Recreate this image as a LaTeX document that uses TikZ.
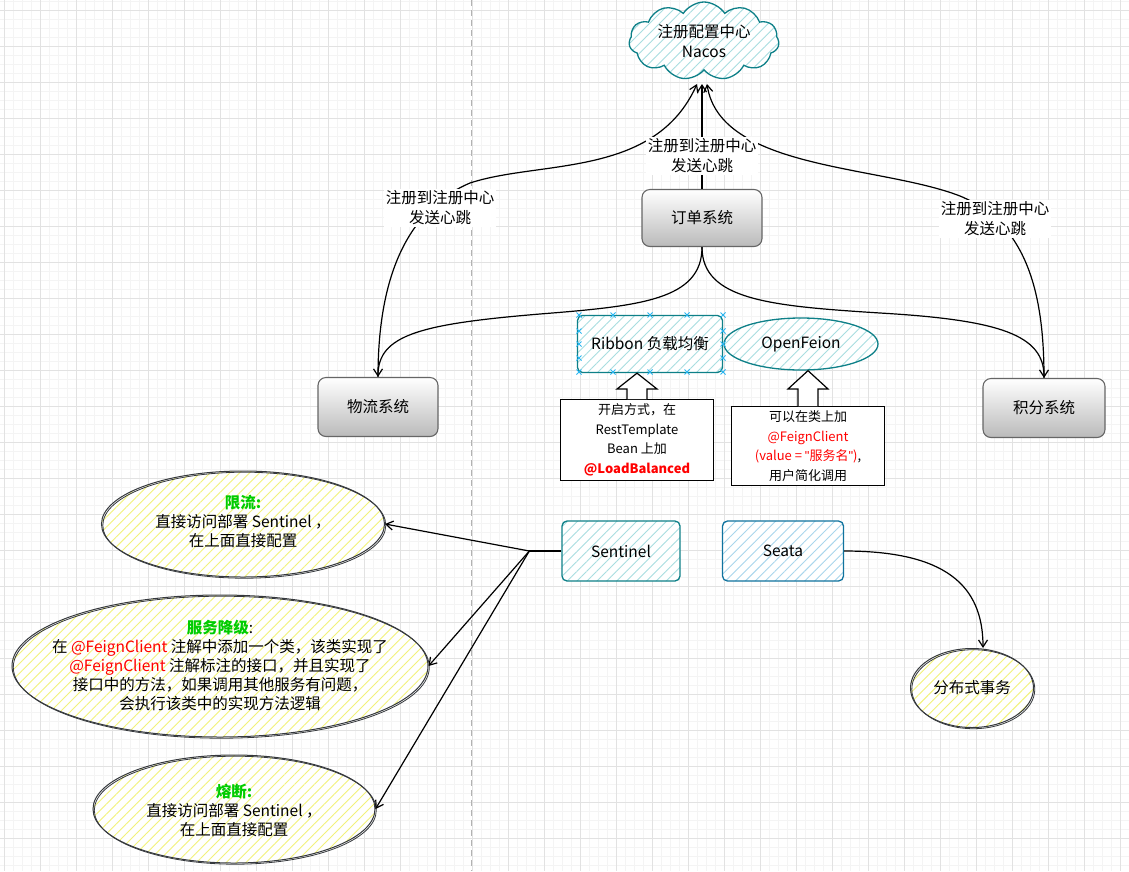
\documentclass[tikz,border=0pt]{standalone}
\usepackage{fontspec}
\setmainfont{Noto Sans CJK SC}
\newfontfamily\libfont{Liberation Sans}
\usetikzlibrary{shapes.geometric,shapes.symbols,patterns.meta,arrows.meta,calc}
\definecolor{teal1}{HTML}{0E8088}
\definecolor{tealf}{HTML}{A8DDE0}
\definecolor{blue1}{HTML}{10739E}
\definecolor{bluef}{HTML}{A9D6EC}
\definecolor{yelf}{HTML}{F2F27A}
\definecolor{dk}{HTML}{36393D}
\definecolor{gr1}{HTML}{666666}
\definecolor{grn}{HTML}{00CC00}
\definecolor{selb}{HTML}{29B6F2}
\definecolor{gridmaj}{HTML}{E2E2E2}
\definecolor{gridmin}{HTML}{F4F4F4}
\begin{document}
\begin{tikzpicture}[x=1pt,y=-1pt,
  every node/.style={font=\fontsize{15.5}{19}\selectfont, align=center, inner sep=0pt},
  hatchtl/.style={preaction={fill=white}, pattern={Lines[angle=45,distance=7pt,line width=0.9pt]}, pattern color=#1},
  tealbox/.style={rectangle, rounded corners=5pt, draw=teal1, line width=1.3pt, hatchtl=tealf},
  seabox/.style={rectangle, rounded corners=5pt, draw=blue1, line width=1.3pt, hatchtl=bluef},
  tealell/.style={ellipse, draw=teal1, line width=1.3pt, hatchtl=tealf},
  yell/.style={ellipse, draw=dk, line width=1pt, hatchtl=yelf,
     postaction={draw=dk, line width=0.8pt, transform canvas={xshift=1.3pt, yshift=-1.2pt}}},
  graybox/.style={rectangle, rounded corners=8pt, draw=gr1, line width=1.1pt, top color=white, bottom color=black!27},
  edge/.style={draw=black, line width=1.2pt, -{Straight Barb[length=7pt,width=9pt]}},
  lbl/.style={fill=white, inner sep=1.5pt, font=\fontsize{15.5}{20}\selectfont},
  callbox/.style={rectangle, draw=black, line width=1pt, fill=white, font=\fontsize{13}{19.5}\selectfont},
  barrow/.style={draw=black, line width=1.2pt, fill=white, line join=miter},
  selx/.style={draw=selb, line width=0.8pt}
]
\useasboundingbox (0,0) rectangle (1129,871);
\fill[white] (0,0) rectangle (1129,871);
% grid
\foreach \x in {4,13,...,1129} \draw[gridmin, line width=0.6pt] (\x,0) -- (\x,871);
\foreach \y in {1,10,...,871} \draw[gridmin, line width=0.6pt] (0,\y) -- (1129,\y);
\foreach \x in {4,40,...,1129} \draw[gridmaj, line width=0.7pt] (\x,0) -- (\x,871);
\foreach \y in {10,46,...,871} \draw[gridmaj, line width=0.7pt] (0,\y) -- (1129,\y);
\draw[black!30, line width=0.8pt, dash pattern=on 6pt off 4pt] (471,0) -- (471,871);

% nodes
\node[cloud, cloud puffs=11, cloud puff arc=115, cloud ignores aspect, minimum width=150pt, minimum height=78pt, draw=teal1, line width=1.3pt, hatchtl=tealf] (nacos) at (704,41) {};
\node (nacost) at (704,41) {注册配置中心\\[1pt]Nacos};
\node[graybox, minimum width=120pt, minimum height=57pt] (order) at (702,218) {订单系统};
\node[graybox, minimum width=120pt, minimum height=59pt] (wuliu) at (378,407) {物流系统};
\node[graybox, minimum width=122pt, minimum height=59pt] (jifen) at (1044,408) {积分系统};
\node[tealbox, minimum width=145pt, minimum height=57pt] (rib) at (650,344) {Ribbon 负载均衡};
\node[tealell, minimum width=154pt, minimum height=52pt] (feign) at (801,344) {OpenFeion};
\node[callbox, minimum width=153pt, minimum height=81pt] (cb1) at (637,440) {开启方式，在\\RestTemplate\\Bean 上加\\{\color{red}\bfseries @LoadBalanced}};
\node[callbox, minimum width=153pt, minimum height=79pt] (cb2) at (808,446) {可以在类上加\\{\color{red}@FeignClient}\\{\color{red}(value = {\libfont "}服务名{\libfont "})},\\用户简化调用};
\node[tealbox, minimum width=118pt, minimum height=60pt] (sent) at (621,551) {Sentinel};
\node[seabox, minimum width=121pt, minimum height=60pt] (seata) at (783,551) {Seata};
\node[yell, minimum width=123pt, minimum height=79pt] (fbs) at (972,688) {分布式事务};
\node[yell, minimum width=283pt, minimum height=106pt] (xl) at (243,524) {};
\node (xlt) at (243,521) {{\color{grn}\bfseries 限流:}\\直接访问部署 Sentinel ，\\在上面直接配置};
\node[yell, minimum width=416pt, minimum height=142pt] (jj) at (220,666) {};
\node (jjt) at (220,665) {{\color{grn}\bfseries 服务降级}:\\在 {\color{red}@FeignClient} 注解中添加一个类，该类实现了\\{\color{red}@FeignClient} 注解标注的接口，并且实现了\\接口中的方法，如果调用其他服务有问题，\\会执行该类中的实现方法逻辑};
\node[yell, minimum width=282pt, minimum height=108pt] (rd) at (234,809) {};
\node (rdt) at (234,810) {{\color{grn}\bfseries 熔断:}\\直接访问部署 Sentinel ，\\在上面直接配置};

% selection handles on Ribbon
\foreach \px/\py in {579/315,613/315,650/315,687/315,723/315,579/372,613/372,650/372,687/372,723/372,579/331,579/344,579/358,723/331,723/344,723/358}
  \draw[selx] (\px-2.5,\py-2.5) -- (\px+2.5,\py+2.5) (\px-2.5,\py+2.5) -- (\px+2.5,\py-2.5);

% arrival points under the cloud
\coordinate (nL) at (697,84);
\coordinate (nM) at (702,84);
\coordinate (nR) at (707,84);
\coordinate (sj) at ($(sent.west)+(-32,0)$);

% edges
\draw[edge] (order.north) -- (nM);
\draw[edge] (wuliu.north) .. controls (378,300) and (395,215) .. (470,183) .. controls (540,160) and (655,178) .. (nL);
\draw[edge] (jifen.north) .. controls (1044,300) and (1030,225) .. (960,196) .. controls (880,165) and (720,170) .. (nR);
\draw[edge] (order.south) .. controls (702,300) and (640,306) .. (540,314) .. controls (420,324) and (378,335) .. (wuliu.north);
\draw[edge] (order.south) .. controls (702,300) and (770,306) .. (880,313) .. controls (1000,320) and (1044,335) .. (jifen.north);
\draw[draw=black, line width=2pt] (sent.west) -- (sj);
\draw[edge] (sj) -- (xl.east);
\draw[edge] (sj) -- (jj.east);
\draw[edge] (sj) -- (rd.east);
\draw[edge] (seata.east) .. controls (945,551) and (983,585) .. ($(fbs.north)+(11,0)$);

% block arrows
\draw[barrow] ($(cb1.north)+(-10,0)$) -- ($(cb1.north)+(-10,-10)$) -- ($(cb1.north)+(-20,-10)$) -- (cb1.north |- rib.south) -- ($(cb1.north)+(20,-10)$) -- ($(cb1.north)+(10,-10)$) -- ($(cb1.north)+(10,0)$);
\draw[barrow] ($(cb2.north)+(-10,0)$) -- ($(cb2.north)+(-10,-17)$) -- ($(cb2.north)+(-20,-17)$) -- (cb2.north |- feign.south) -- ($(cb2.north)+(20,-17)$) -- ($(cb2.north)+(10,-17)$) -- ($(cb2.north)+(10,0)$);

% edge labels
\node[lbl] (l0) at (702,156) {注册到注册中心\\发送心跳};
\node[lbl] (l1) at (440,208) {注册到注册中心\\发送心跳};
\node[lbl] (l2) at (995,219) {注册到注册中心\\发送心跳};
\end{tikzpicture}
\end{document}
